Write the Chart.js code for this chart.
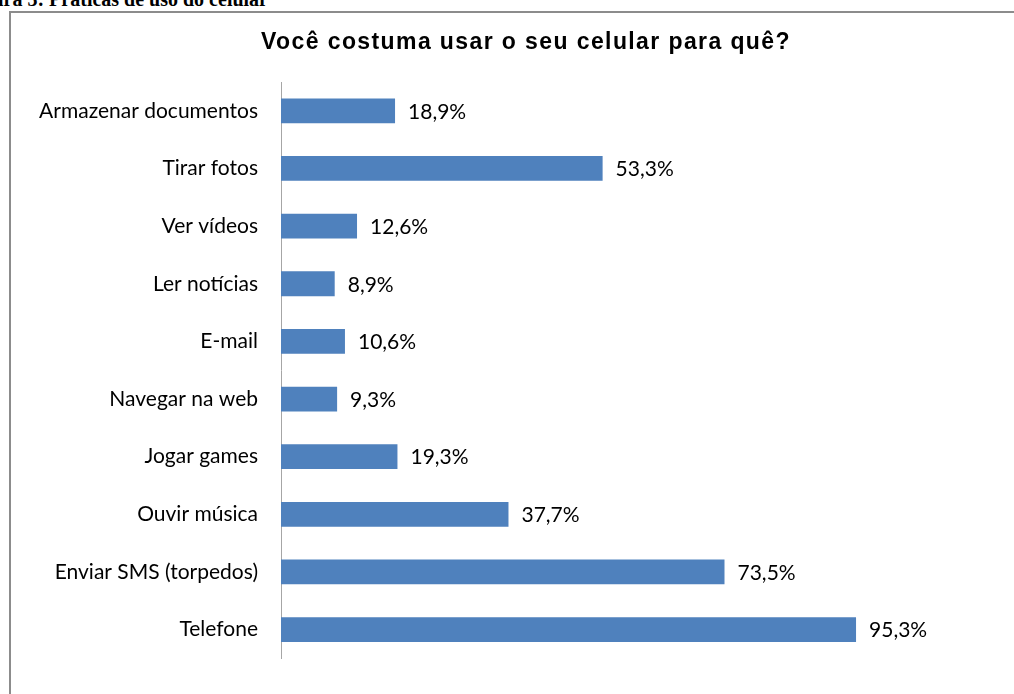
<!DOCTYPE html>
<html>
<head>
<meta charset="utf-8">
<script src="https://cdn.jsdelivr.net/npm/chart.js@4"></script>
<style>
  html, body { margin: 0; padding: 0; background: #fff; overflow: hidden; width: 1014px; height: 694px; }
  #cap {
    position: absolute; top: -11px; left: 0; width: 268px;
    font: bold 20px "Liberation Serif", serif; line-height: 1;
    white-space: nowrap; text-align: right; direction: rtl; color: #000;
  }
  #box {
    position: absolute; left: 9px; top: 11px; width: 1030px; height: 700px;
    border: 2px solid #8c8c8c;
  }
  #wrap { position: relative; width: 1030px; height: 681px; }
</style>
</head>
<body>
<div id="cap"><span dir="ltr">Figura 3: Práticas de uso do celular</span></div>
<div id="box"><div id="wrap"><canvas id="grafico"></canvas></div></div>
<script>
  // categorias e valores (%)
  const categorias = ['Armazenar documentos', 'Tirar fotos', 'Ver vídeos', 'Ler notícias', 'E-mail',
    'Navegar na web', 'Jogar games', 'Ouvir música', 'Enviar SMS (torpedos)', 'Telefone'];
  const valores = [18.9, 53.3, 12.6, 8.9, 10.6, 9.3, 19.3, 37.7, 73.5, 95.3];
  const titulo = 'Você costuma usar o seu celular para quê?';

  const fonteRotulo = { family: 'Lato, "Open Sans", sans-serif', size: 21 };

  // titulo e rotulos de valor desenhados a mao
  const rotulos = {
    id: 'rotulos',
    afterDatasetsDraw(chart) {
      const ctx = chart.ctx;
      const meta = chart.getDatasetMeta(0);
      ctx.save();
      ctx.font = fonteRotulo.size + 'px ' + fonteRotulo.family;
      ctx.fillStyle = '#000';
      ctx.textBaseline = 'middle';
      ctx.textAlign = 'left';
      meta.data.forEach((bar, i) => {
        const txt = valores[i].toFixed(1).replace('.', ',') + '%';
        ctx.fillText(txt, bar.x + 13, bar.y + 1);
      });
      // titulo
      ctx.font = 'bold 23px "Liberation Sans", Arial, sans-serif';
      ctx.letterSpacing = '1.4px';
      ctx.textAlign = 'center';
      ctx.fillText(titulo, 515, 30);
      ctx.restore();
    }
  };

  new Chart(document.getElementById('grafico'), {
    type: 'bar',
    data: {
      labels: categorias,
      datasets: [{
        data: valores,
        backgroundColor: '#4F81BD',
        barPercentage: 0.43,
        categoryPercentage: 1
      }]
    },
    options: {
      indexAxis: 'y',
      responsive: true,
      maintainAspectRatio: false,
      animation: false,
      layout: { padding: { top: 69, right: 156.6, bottom: 17, left: 0 } },
      plugins: {
        legend: { display: false },
        tooltip: { enabled: false },
        title: { display: false }
      },
      scales: {
        x: {
          display: false,
          min: 0,
          max: 100
        },
        y: {
          grid: { display: false, drawTicks: false },
          border: { display: true, color: '#a6a6a6', width: 1 },
          ticks: { color: '#000', font: fonteRotulo, padding: 23 },
          afterFit(scale) { scale.width = 270; }
        }
      }
    },
    plugins: [rotulos]
  });
</script>
</body>
</html>
